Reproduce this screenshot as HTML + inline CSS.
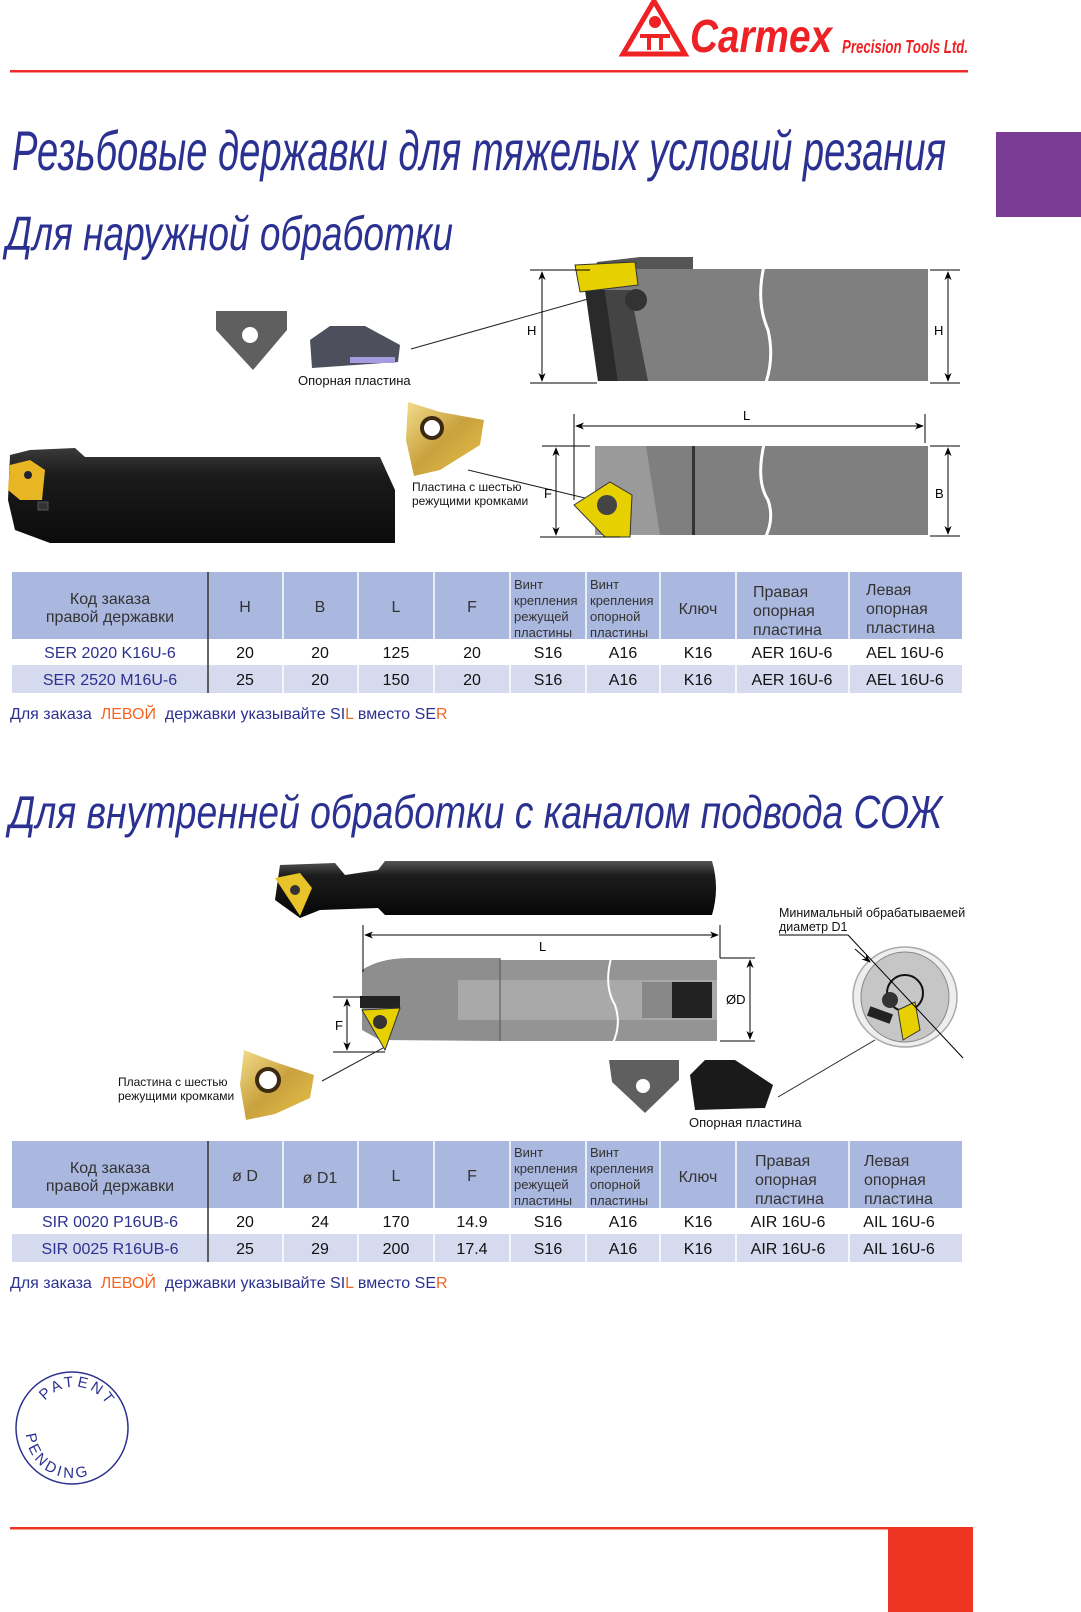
<!DOCTYPE html>
<html><head><meta charset="utf-8">
<style>
html,body{margin:0;padding:0;background:#fff;}
svg{display:block;}
text{font-family:"Liberation Sans",sans-serif;}
</style></head>
<body>
<svg width="1081" height="1612" viewBox="0 0 1081 1612" xmlns="http://www.w3.org/2000/svg">
<defs>
<marker id="ar" viewBox="0 0 10 10" refX="9" refY="5" markerWidth="9" markerHeight="9" orient="auto-start-reverse"><path d="M0,1 L10,5 L0,9 L3,5 z" fill="#000"/></marker>
<linearGradient id="blk" x1="0" y1="0" x2="0" y2="1"><stop offset="0" stop-color="#3a3a3a"/><stop offset="0.3" stop-color="#1a1a1a"/><stop offset="1" stop-color="#0c0c0c"/></linearGradient>
<linearGradient id="bar" x1="0" y1="0" x2="0" y2="1"><stop offset="0" stop-color="#555"/><stop offset="0.25" stop-color="#1d1d1d"/><stop offset="1" stop-color="#050505"/></linearGradient>
<linearGradient id="gold" x1="0" y1="0" x2="1" y2="1"><stop offset="0" stop-color="#f2dc8a"/><stop offset="0.5" stop-color="#c9a13e"/><stop offset="1" stop-color="#e8c24a"/></linearGradient>
</defs>

<!-- Logo -->
<g fill="#ee2224">
<path d="M654,1 L685,54 L623,54 Z" fill="none" stroke="#ee2224" stroke-width="5"/>
<circle cx="655" cy="22" r="6"/>
<rect x="640" y="34" width="30" height="4"/>
<rect x="647" y="38" width="4" height="12"/><rect x="659" y="38" width="4" height="12"/>
</g>
<text x="690" y="52" font-family="Liberation Serif,serif" font-style="italic" font-weight="bold" font-size="46" fill="#ee2224" textLength="142" lengthAdjust="spacingAndGlyphs">Carmex</text>
<text x="842" y="53" font-family="Liberation Serif,serif" font-style="italic" font-weight="bold" font-size="18" fill="#ee2224" textLength="126" lengthAdjust="spacingAndGlyphs">Precision Tools Ltd.</text>
<rect x="10" y="70" width="958" height="2.5" fill="#ee2a2a"/>
<rect x="996" y="132" width="85" height="85" fill="#7a3c94"/>

<!-- Titles -->
<text x="12" y="170" font-style="italic" font-size="56" fill="#2b3190" textLength="934" lengthAdjust="spacingAndGlyphs">Резьбовые державки для тяжелых условий резания</text>
<text x="6" y="250" font-style="italic" font-size="48" fill="#2b3190" textLength="447" lengthAdjust="spacingAndGlyphs">Для наружной обработки</text>

<!-- small inserts top -->
<path d="M216,311 L287,311 L287,330 L253,370 L216,330 Z" fill="#5f5f5f"/>
<circle cx="250" cy="335" r="8" fill="#fff"/>
<path d="M310,340 L330,326 L365,326 L400,345 L398,362 L312,368 Z" fill="#4d4f5c"/>
<rect x="350" y="357" width="45" height="6" fill="#a59ce0"/>
<text x="298" y="385" font-size="13" fill="#111">Опорная пластина</text>
<line x1="411" y1="349" x2="595" y2="297" stroke="#222" stroke-width="1"/>

<!-- gold insert top -->
<path d="M408,402 L440,412 L484,420 L480,445 L440,470 L414,476 L406,440 Z" fill="url(#gold)"/>
<circle cx="432" cy="428" r="12" fill="#3b2a10"/><circle cx="432" cy="428" r="8" fill="#fff"/>
<text x="412" y="491" font-size="12" fill="#111">Пластина с шестью</text>
<text x="412" y="505" font-size="12" fill="#111">режущими кромками</text>
<line x1="468" y1="470" x2="585" y2="498" stroke="#222" stroke-width="1"/>

<!-- left tool photo -->
<path d="M10,455 L30,450 L75,448 L85,457 L380,457 L395,490 L395,543 L50,543 L15,530 L8,500 Z" fill="url(#blk)"/>
<path d="M10,465 L30,460 L45,470 L42,500 L20,500 L8,490 Z" fill="#e8b523"/>
<circle cx="28" cy="475" r="4" fill="#223"/>
<rect x="38" y="502" width="10" height="8" fill="#333" stroke="#555"/>

<!-- top right drawing -->
<path d="M595,269 L693,269 L693,257 L640,257 L597,262 L595,269 Z" fill="#555"/>
<path d="M595,269 L928,269 L928,381 L598,381 L585,290 Z" fill="#7f7f7f"/>
<path d="M585,290 L605,290 L618,381 L598,381 Z" fill="#2a2a2a"/>
<path d="M605,290 L630,290 L648,381 L618,381 Z" fill="#444"/>
<path d="M575,265 L635,262 L638,285 L580,292 Z" fill="#e6d000" stroke="#333" stroke-width="1"/>
<circle cx="636" cy="300" r="11" fill="#333"/>
<path d="M765,262 Q755,300 768,330 Q775,360 764,388" fill="none" stroke="#fff" stroke-width="3"/>
<line x1="530" y1="270" x2="590" y2="270" stroke="#000"/><line x1="530" y1="383" x2="597" y2="383" stroke="#000"/>
<line x1="542" y1="272" x2="542" y2="381" stroke="#000" marker-start="url(#ar)" marker-end="url(#ar)"/>
<text x="527" y="335" font-size="13">H</text>
<line x1="930" y1="270" x2="960" y2="270" stroke="#000"/><line x1="930" y1="383" x2="960" y2="383" stroke="#000"/>
<line x1="948" y1="272" x2="948" y2="381" stroke="#000" marker-start="url(#ar)" marker-end="url(#ar)"/>
<text x="934" y="335" font-size="13">H</text>

<!-- bottom right drawing -->
<rect x="595" y="446" width="333" height="89" fill="#7f7f7f"/>
<path d="M595,446 L646,446 L660,535 L595,535 Z" fill="#9a9a9a"/>
<rect x="692" y="446" width="3" height="89" fill="#333"/>
<path d="M574,505 L610,482 L632,495 L630,537 L605,537 Z" fill="#e6d000" stroke="#333" stroke-width="1"/>
<circle cx="607" cy="505" r="10" fill="#444"/>
<path d="M765,440 Q755,480 768,500 Q775,520 764,540" fill="none" stroke="#fff" stroke-width="3"/>
<line x1="574" y1="414" x2="574" y2="500" stroke="#000"/><line x1="925" y1="414" x2="925" y2="443" stroke="#000"/>
<line x1="576" y1="426" x2="923" y2="426" stroke="#000" marker-start="url(#ar)" marker-end="url(#ar)"/>
<text x="743" y="420" font-size="13">L</text>
<line x1="542" y1="446" x2="590" y2="446" stroke="#000"/><line x1="540" y1="537" x2="620" y2="537" stroke="#000"/>
<line x1="556" y1="448" x2="556" y2="535" stroke="#000" marker-start="url(#ar)" marker-end="url(#ar)"/>
<text x="544" y="498" font-size="13">F</text>
<line x1="930" y1="446" x2="960" y2="446" stroke="#000"/><line x1="930" y1="536" x2="960" y2="536" stroke="#000"/>
<line x1="948" y1="448" x2="948" y2="534" stroke="#000" marker-start="url(#ar)" marker-end="url(#ar)"/>
<text x="935" y="498" font-size="13">B</text>

<!-- Table 1 -->
<g font-size="16" text-anchor="middle">
<rect x="12" y="572" width="950" height="67" fill="#aab7de"/>
<rect x="12" y="639" width="950" height="26" fill="#fff"/>
<rect x="12" y="665" width="950" height="28" fill="#d5daee"/>
<g stroke="#fff" stroke-width="1.5">
<line x1="208" y1="572" x2="208" y2="693" stroke="#333"/>
<line x1="283" y1="572" x2="283" y2="693"/><line x1="358" y1="572" x2="358" y2="693"/><line x1="434" y1="572" x2="434" y2="693"/><line x1="510" y1="572" x2="510" y2="693"/><line x1="586" y1="572" x2="586" y2="693"/><line x1="660" y1="572" x2="660" y2="693"/><line x1="736" y1="572" x2="736" y2="693"/><line x1="849" y1="572" x2="849" y2="693"/>
</g>
<g fill="#333">
<text x="110" y="604">Код заказа</text><text x="110" y="622">правой державки</text>
<text x="245" y="612">H</text><text x="320" y="612">B</text><text x="396" y="612">L</text><text x="472" y="612">F</text>
<g text-anchor="start" font-size="13"><text x="514" y="589">Винт</text><text x="514" y="605">крепления</text><text x="514" y="621">режущей</text><text x="514" y="637">пластины</text>
<text x="590" y="589">Винт</text><text x="590" y="605">крепления</text><text x="590" y="621">опорной</text><text x="590" y="637">пластины</text></g>
<text x="698" y="614">Ключ</text>
<g text-anchor="start"><text x="753" y="597">Правая</text><text x="753" y="616">опорная</text><text x="753" y="635">пластина</text>
<text x="866" y="595">Левая</text><text x="866" y="614">опорная</text><text x="866" y="633">пластина</text></g>
</g>
<g fill="#111">
<text x="110" y="658" fill="#2b3190">SER 2020 K16U-6</text><text x="245" y="658">20</text><text x="320" y="658">20</text><text x="396" y="658">125</text><text x="472" y="658">20</text><text x="548" y="658">S16</text><text x="623" y="658">A16</text><text x="698" y="658">K16</text><text x="792" y="658">AER 16U-6</text><text x="905" y="658">AEL 16U-6</text>
<text x="110" y="685" fill="#2b3190">SER 2520 M16U-6</text><text x="245" y="685">25</text><text x="320" y="685">20</text><text x="396" y="685">150</text><text x="472" y="685">20</text><text x="548" y="685">S16</text><text x="623" y="685">A16</text><text x="698" y="685">K16</text><text x="792" y="685">AER 16U-6</text><text x="905" y="685">AEL 16U-6</text>
</g>
</g>
<text x="10" y="719" font-size="16" fill="#2b3190" xml:space="preserve">Для заказа  <tspan fill="#f26522">ЛЕВОЙ</tspan>  державки указывайте SI<tspan fill="#f26522">L</tspan> вместо SE<tspan fill="#f26522">R</tspan></text>

<!-- Section 2 title -->
<text x="9" y="828" font-style="italic" font-size="46" fill="#2b3190" textLength="933" lengthAdjust="spacingAndGlyphs">Для внутренней обработки с каналом подвода СОЖ</text>

<!-- bar photo -->
<path d="M280,865 L335,863 L345,875 L378,870 L385,861 L712,861 Q720,888 712,915 L385,915 L378,908 L320,910 L300,918 L275,900 Z" fill="url(#bar)"/>
<path d="M275,878 L300,873 L312,888 L300,916 Z" fill="#e8c42a"/>
<circle cx="295" cy="890" r="5" fill="#333"/>

<!-- internal drawing -->
<path d="M362,970 Q380,958 410,958 L500,958 L500,960 L717,960 L717,1041 L500,1041 L380,1040 L362,1030 Z" fill="#8e8e8e"/>
<rect x="500" y="960" width="217" height="81" fill="#949494"/>
<rect x="458" y="980" width="259" height="40" fill="#a9a9a9"/>
<rect x="642" y="982" width="30" height="36" fill="#888"/>
<rect x="672" y="982" width="40" height="36" fill="#222"/>
<line x1="500" y1="958" x2="500" y2="1041" stroke="#555"/>
<path d="M612,955 Q603,985 615,1005 Q622,1025 612,1045" fill="none" stroke="#fff" stroke-width="2"/>
<rect x="360" y="996" width="40" height="12" fill="#222"/>
<path d="M362,1010 L400,1008 L385,1050 Z" fill="#e6d000" stroke="#333" stroke-width="1"/>
<circle cx="380" cy="1022" r="7" fill="#333"/>
<line x1="363" y1="925" x2="363" y2="972" stroke="#000"/><line x1="720" y1="925" x2="720" y2="958" stroke="#000"/>
<line x1="365" y1="935" x2="718" y2="935" stroke="#000" marker-start="url(#ar)" marker-end="url(#ar)"/>
<text x="539" y="951" font-size="13">L</text>
<line x1="720" y1="958" x2="755" y2="958" stroke="#000"/><line x1="720" y1="1041" x2="755" y2="1041" stroke="#000"/>
<line x1="750" y1="960" x2="750" y2="1039" stroke="#000" marker-start="url(#ar)" marker-end="url(#ar)"/>
<text x="726" y="1004" font-size="13">ØD</text>
<line x1="333" y1="997" x2="362" y2="997" stroke="#000"/><line x1="333" y1="1052" x2="385" y2="1052" stroke="#000"/>
<line x1="347" y1="999" x2="347" y2="1050" stroke="#000" marker-start="url(#ar)" marker-end="url(#ar)"/>
<text x="335" y="1030" font-size="13">F</text>

<!-- circle detail -->
<ellipse cx="905" cy="997" rx="52" ry="50" fill="#eee" stroke="#aaa" stroke-width="1.5"/>
<ellipse cx="905" cy="997" rx="44" ry="45" fill="#c6c6c6" stroke="#888"/>
<circle cx="905" cy="993" r="18" fill="none" stroke="#111" stroke-width="2"/>
<circle cx="890" cy="1000" r="8" fill="#333"/>
<path d="M898,1010 L915,1002 L920,1030 L903,1040 Z" fill="#e6d000" stroke="#333" stroke-width="1"/>
<rect x="868" y="1010" width="24" height="10" fill="#222" transform="rotate(20 880 1015)"/>
<text x="779" y="917" font-size="12.5" fill="#111">Минимальный обрабатываемей</text>
<text x="779" y="931" font-size="12.5" fill="#111">диаметр D1</text>
<line x1="779" y1="935" x2="848" y2="935" stroke="#000"/>
<line x1="848" y1="935" x2="963" y2="1058" stroke="#000"/>
<line x1="855" y1="949" x2="870" y2="962" stroke="#000" marker-end="url(#ar)"/>

<!-- gold insert bottom -->
<path d="M244,1050 L275,1062 L314,1075 L310,1098 L275,1114 L246,1120 L240,1085 Z" fill="url(#gold)"/>
<circle cx="268" cy="1080" r="13" fill="#3b2a10"/><circle cx="268" cy="1080" r="9" fill="#fff"/>
<text x="118" y="1086" font-size="12" fill="#111">Пластина с шестью</text>
<text x="118" y="1100" font-size="12" fill="#111">режущими кромками</text>
<line x1="322" y1="1081" x2="383" y2="1048" stroke="#222"/>

<!-- inserts bottom -->
<path d="M609,1060 L679,1060 L679,1080 L645,1113 L612,1082 Z" fill="#5f5f5f"/>
<circle cx="643" cy="1086" r="7" fill="#fff"/>
<path d="M690,1075 L705,1060 L735,1060 L773,1085 L765,1108 L695,1110 Z" fill="#1a1a1a"/>
<text x="689" y="1127" font-size="13" fill="#111">Опорная пластина</text>
<line x1="778" y1="1097" x2="875" y2="1040" stroke="#222"/>

<!-- Table 2 -->
<g font-size="16" text-anchor="middle">
<rect x="12" y="1141" width="950" height="67" fill="#aab7de"/>
<rect x="12" y="1208" width="950" height="26" fill="#fff"/>
<rect x="12" y="1234" width="950" height="28" fill="#d5daee"/>
<g stroke="#fff" stroke-width="1.5">
<line x1="208" y1="1141" x2="208" y2="1262" stroke="#333"/>
<line x1="283" y1="1141" x2="283" y2="1262"/><line x1="358" y1="1141" x2="358" y2="1262"/><line x1="434" y1="1141" x2="434" y2="1262"/><line x1="510" y1="1141" x2="510" y2="1262"/><line x1="586" y1="1141" x2="586" y2="1262"/><line x1="660" y1="1141" x2="660" y2="1262"/><line x1="736" y1="1141" x2="736" y2="1262"/><line x1="849" y1="1141" x2="849" y2="1262"/>
</g>
<g fill="#333">
<text x="110" y="1173">Код заказа</text><text x="110" y="1191">правой державки</text>
<text x="245" y="1181">ø D</text><text x="320" y="1183">ø D1</text><text x="396" y="1181">L</text><text x="472" y="1181">F</text>
<g text-anchor="start" font-size="13"><text x="514" y="1157">Винт</text><text x="514" y="1173">крепления</text><text x="514" y="1189">режущей</text><text x="514" y="1205">пластины</text>
<text x="590" y="1157">Винт</text><text x="590" y="1173">крепления</text><text x="590" y="1189">опорной</text><text x="590" y="1205">пластины</text></g>
<text x="698" y="1182">Ключ</text>
<g text-anchor="start"><text x="755" y="1166">Правая</text><text x="755" y="1185">опорная</text><text x="755" y="1204">пластина</text>
<text x="864" y="1166">Левая</text><text x="864" y="1185">опорная</text><text x="864" y="1204">пластина</text></g>
</g>
<g fill="#111">
<text x="110" y="1227" fill="#2b3190">SIR 0020 P16UB-6</text><text x="245" y="1227">20</text><text x="320" y="1227">24</text><text x="396" y="1227">170</text><text x="472" y="1227">14.9</text><text x="548" y="1227">S16</text><text x="623" y="1227">A16</text><text x="698" y="1227">K16</text><text x="788" y="1227">AIR 16U-6</text><text x="899" y="1227">AIL 16U-6</text>
<text x="110" y="1254" fill="#2b3190">SIR 0025 R16UB-6</text><text x="245" y="1254">25</text><text x="320" y="1254">29</text><text x="396" y="1254">200</text><text x="472" y="1254">17.4</text><text x="548" y="1254">S16</text><text x="623" y="1254">A16</text><text x="698" y="1254">K16</text><text x="788" y="1254">AIR 16U-6</text><text x="899" y="1254">AIL 16U-6</text>
</g>
</g>
<text x="10" y="1288" font-size="16" fill="#2b3190" xml:space="preserve">Для заказа  <tspan fill="#f26522">ЛЕВОЙ</tspan>  державки указывайте SI<tspan fill="#f26522">L</tspan> вместо SE<tspan fill="#f26522">R</tspan></text>

<!-- Patent pending -->
<ellipse cx="72" cy="1428" rx="56" ry="56" fill="none" stroke="#2b3190" stroke-width="1.5"/>
<path id="pt" d="M45,1401 A38,38 0 0 1 109,1441" fill="none"/>
<path id="pb" d="M26,1432 A46,46 0 0 0 103,1466" fill="none"/>
<text font-size="15" fill="#2b3190" letter-spacing="3"><textPath href="#pt" startOffset="0%">PATENT</textPath></text>
<text font-size="15" fill="#2b3190" letter-spacing="3"><textPath href="#pb" startOffset="2%">PENDING</textPath></text>

<!-- bottom bar -->
<rect x="10" y="1527" width="878" height="2.5" fill="#ee3524"/>
<rect x="888" y="1527" width="85" height="85" fill="#ee3524"/>
</svg>
</body></html>
